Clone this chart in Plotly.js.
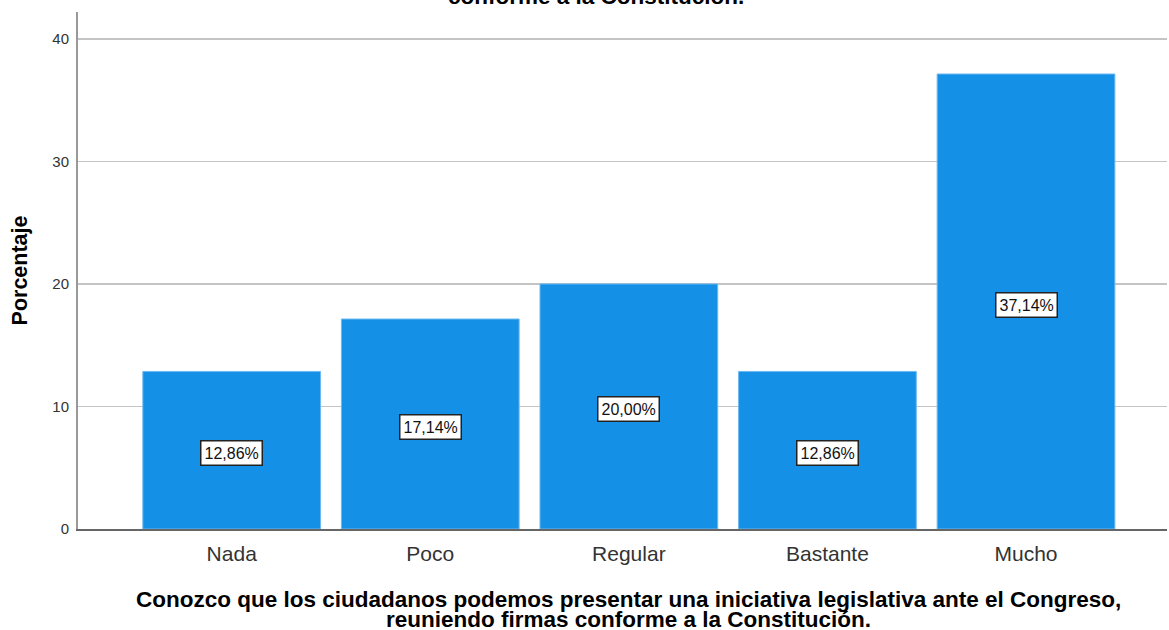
<!DOCTYPE html>
<html>
<head>
<meta charset="utf-8">
<script src="https://cdn.plot.ly/plotly-3.0.1.min.js"></script>
<style>html,body{margin:0;padding:0;background:#fff;}#chart{width:1169px;height:630px;}</style>
</head>
<body>
<div id="chart"></div>
<script>
const categories = ["Nada", "Poco", "Regular", "Bastante", "Mucho"];
const percentages = [12.86, 17.14, 20.00, 12.86, 37.14];
const barLabels = ["12,86%", "17,14%", "20,00%", "12,86%", "37,14%"];
const yTicks = [0, 10, 20, 30, 40];
const xTitleLines = [
  "Conozco que los ciudadanos podemos presentar una iniciativa legislativa ante el Congreso,",
  "reuniendo firmas conforme a la Constitución."
];
const topTitle = "conforme a la Constitución.";

const FONT = "Liberation Sans, Arial, sans-serif";

const trace = {
  type: "bar",
  x: categories.map((c, i) => i),
  y: percentages,
  width: 0.895,
  marker: { color: "rgb(20,144,230)", line: { color: "rgb(110,185,240)", width: 1 } },
  hoverinfo: "none"
};

const annotations = percentages.map((v, i) => ({
  x: i, y: v / 2, xref: "x", yref: "y", yshift: -3,
  text: barLabels[i], showarrow: false,
  font: { family: FONT, size: 16, color: "#111" },
  bgcolor: "#ffffff", bordercolor: "#222", borderwidth: 1.5, borderpad: 3
}));
annotations.push({
  x: 0.5, y: 1.0, xref: "paper", yref: "paper", yanchor: "bottom", yshift: 1, xshift: -27,
  text: "<b>" + topTitle + "</b>", showarrow: false,
  font: { family: FONT, size: 22.5, color: "#000" }
});
xTitleLines.forEach((line, k) => {
  annotations.push({
    x: 0.5, y: 0, xref: "paper", yref: "paper", yanchor: "middle", xshift: 6,
    yshift: -70 - 20 * k,
    text: "<b>" + line + "</b>", showarrow: false,
    font: { family: FONT, size: 22.5, color: "#000" }
  });
});

const layout = {
  width: 1169, height: 630,
  margin: { l: 78, r: 2, t: 12, b: 101 },
  paper_bgcolor: "#fff", plot_bgcolor: "#fff",
  showlegend: false,
  xaxis: {
    range: [-0.774, 4.71],
    tickvals: categories.map((c, i) => i),
    ticktext: categories,
    ticks: "", showgrid: false, zeroline: false,
    showline: true, linecolor: "#666", linewidth: 1.5,
    ticklabelstandoff: 5,
    tickfont: { family: FONT, size: 21, color: "#333" }
  },
  yaxis: {
    range: [0, 42.2],
    tickvals: yTicks, ticktext: yTicks.map(String),
    ticks: "", showgrid: true, gridcolor: "#c4c4c4", gridwidth: 1.5,
    zeroline: false, showline: true, linecolor: "#999", linewidth: 2,
    ticklabelstandoff: 4,
    tickfont: { family: FONT, size: 15, color: "#333" },
    title: { text: "<b>Porcentaje</b>", standoff: 19,
      font: { family: FONT, size: 21.5, color: "#000" } }
  },
  annotations: annotations,
  bargap: 0.1
};

Plotly.newPlot("chart", [trace], layout, { displayModeBar: false, staticPlot: true });
</script>
</body>
</html>
